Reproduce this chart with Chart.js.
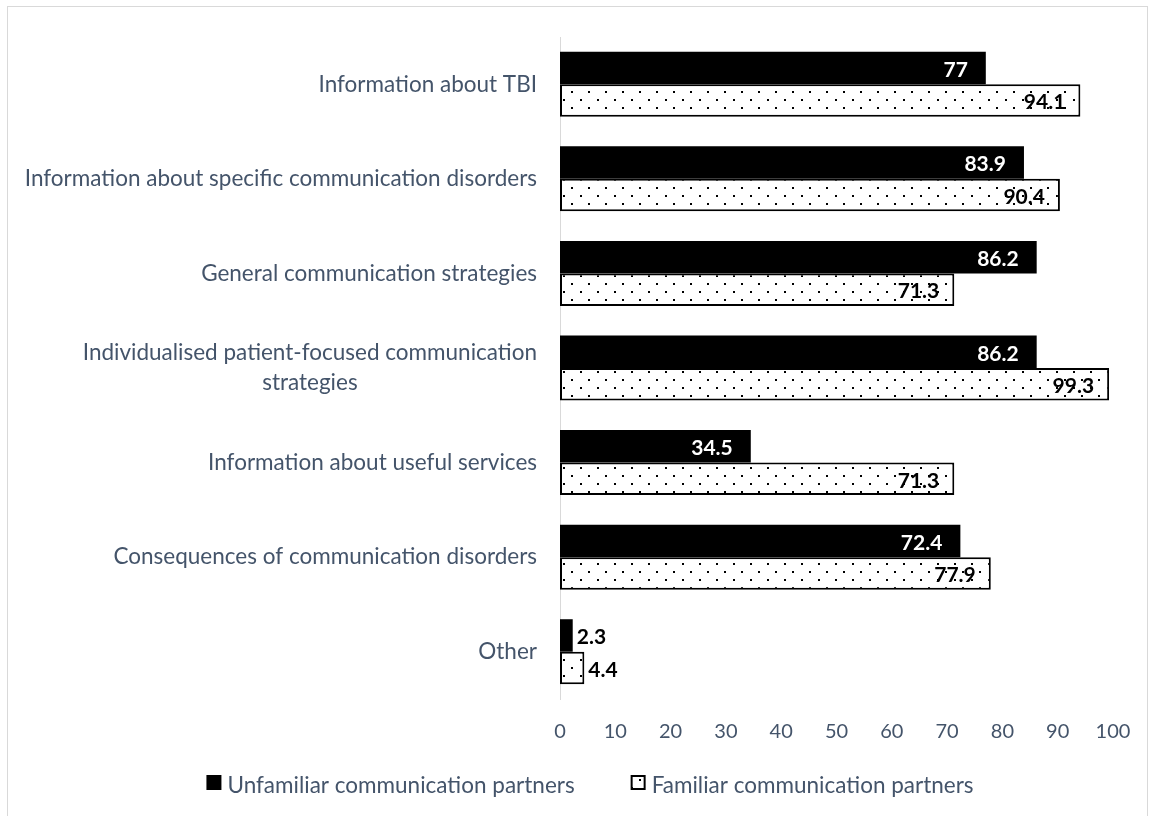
<!DOCTYPE html>
<html>
<head>
<meta charset="utf-8">
<script src="https://cdn.jsdelivr.net/npm/chart.js@4.4.1/dist/chart.umd.min.js"></script>
<style>
  html, body { margin: 0; padding: 0; background: #fff; }
  #chart { display: block; }
</style>
</head>
<body>
<canvas id="chart" width="1150" height="816"></canvas>
<script>
const categories = [
    ['Information about TBI'],
    ['Information about specific communication disorders'],
    ['General communication strategies'],
    ['Individualised patient-focused communication', 'strategies'],
    ['Information about useful services'],
    ['Consequences of communication disorders'],
    ['Other']
];
const seriesNames = ['Unfamiliar communication partners', 'Familiar communication partners'];
const unfamiliar = [77, 83.9, 86.2, 86.2, 34.5, 72.4, 2.3];
const familiar = [94.1, 90.4, 71.3, 99.3, 71.3, 77.9, 4.4];
const xTicks = [0, 10, 20, 30, 40, 50, 60, 70, 80, 90, 100];

const textColor = '#44546A';
const fontFamily = 'Lato, "Open Sans", sans-serif';

// dotted fill for the familiar series
function makeDots() {
    const c = document.createElement('canvas');
    c.width = 17;
    c.height = 16;
    const g = c.getContext('2d');
    g.fillStyle = '#fff';
    g.fillRect(0, 0, 17, 16);
    g.fillStyle = '#000';
    g.fillRect(2, 3, 2, 2);
    g.fillRect(10, 11, 2, 2);
    return g.createPattern(c, 'repeat');
}
const dots = makeDots();

// outer frame
const framePlugin = {
    id: 'frame',
    beforeDraw(chart) {
        const ctx = chart.ctx;
        ctx.save();
        ctx.strokeStyle = '#D9D9D9';
        ctx.lineWidth = 1;
        ctx.strokeRect(7.5, 6.5, 1140, 900);
        ctx.restore();
    }
};

// category names, right aligned, extra lines centered under the first
const categoryLabels = {
    id: 'categoryLabels',
    afterDraw(chart) {
        const ctx = chart.ctx;
        const scale = chart.scales.y;
        const right = chart.chartArea.left - 23;
        const lineH = 30;
        ctx.save();
        ctx.font = '22.5px ' + fontFamily;
        ctx.fillStyle = textColor;
        ctx.textBaseline = 'middle';
        ctx.textAlign = 'center';
        categories.forEach((lines, i) => {
            const y = scale.getPixelForTick(i);
            const widest = Math.max(...lines.map(l => ctx.measureText(l).width));
            const cx = right - widest / 2;
            const top = y - (lines.length - 1) * lineH / 2;
            lines.forEach((l, k) => ctx.fillText(l, cx, top + k * lineH));
        });
        ctx.restore();
    }
};

// value labels at the end of every bar
const valueLabels = {
    id: 'valueLabels',
    afterDatasetsDraw(chart) {
        const ctx = chart.ctx;
        ctx.save();
        ctx.font = 'bold 21px ' + fontFamily;
        ctx.textBaseline = 'middle';
        chart.data.datasets.forEach((ds, di) => {
            const meta = chart.getDatasetMeta(di);
            meta.data.forEach((bar, i) => {
                const text = String(ds.data[i]);
                const w = ctx.measureText(text).width;
                const len = bar.x - bar.base;
                if (len > w + 26) {
                    ctx.textAlign = 'right';
                    ctx.fillStyle = di === 0 ? '#fff' : '#000';
                    ctx.fillText(text, bar.x - (di === 0 ? 18 : 15), bar.y + 2);
                } else {
                    ctx.textAlign = 'left';
                    ctx.fillStyle = '#000';
                    ctx.fillText(text, bar.x + 4, bar.y + 2);
                }
            });
        });
        ctx.restore();
    }
};

// legend row under the axis
const legendRow = {
    id: 'legendRow',
    afterDraw(chart) {
        const ctx = chart.ctx;
        const box = 15;
        const gap = 6;
        const spacing = 56;
        const y = 786;
        ctx.save();
        ctx.font = '22.5px ' + fontFamily;
        ctx.textBaseline = 'middle';
        ctx.textAlign = 'left';
        const widths = seriesNames.map(n => box + gap + ctx.measureText(n).width);
        const total = widths[0] + spacing + widths[1];
        let x = 590 - total / 2;
        chart.data.datasets.forEach((ds, i) => {
            const top = y - 11;
            if (i === 0) {
                ctx.fillStyle = '#000';
                ctx.fillRect(x, top, box, box);
            } else {
                ctx.fillStyle = dots;
                ctx.fillRect(x, top, box, box);
                ctx.strokeStyle = '#000';
                ctx.lineWidth = 2;
                ctx.strokeRect(x + 1, top + 1, box - 2, box - 2);
            }
            ctx.fillStyle = textColor;
            ctx.fillText(ds.label, x + box + gap, y);
            x += widths[i] + spacing;
        });
        ctx.restore();
    }
};

new Chart(document.getElementById('chart'), {
    type: 'bar',
    data: {
        labels: categories.map(c => c.join(' ')),
        datasets: [
            {
                label: seriesNames[0],
                data: unfamiliar,
                backgroundColor: '#000',
                borderWidth: 0,
                categoryPercentage: 0.687,
                barPercentage: 1
            },
            {
                label: seriesNames[1],
                data: familiar,
                backgroundColor: dots,
                borderColor: '#000',
                borderWidth: 2,
                borderSkipped: false,
                categoryPercentage: 0.687,
                barPercentage: 1
            }
        ]
    },
    options: {
        indexAxis: 'y',
        responsive: false,
        animation: false,
        layout: { padding: { top: 37, right: 37, bottom: 59, left: 0 } },
        scales: {
            x: {
                min: 0,
                max: 100,
                afterBuildTicks(scale) {
                    scale.ticks = xTicks.map(v => ({ value: v }));
                },
                grid: { display: false },
                border: { display: false },
                ticks: {
                    color: textColor,
                    font: { family: fontFamily, size: 20 },
                    padding: 13
                }
            },
            y: {
                grid: { display: false },
                border: { display: true, color: '#D9D9D9', width: 1 },
                ticks: { display: false },
                afterFit(scale) {
                    scale.width = 560;
                }
            }
        },
        plugins: {
            legend: { display: false },
            tooltip: { enabled: false }
        }
    },
    plugins: [framePlugin, categoryLabels, valueLabels, legendRow]
});
</script>
</body>
</html>
